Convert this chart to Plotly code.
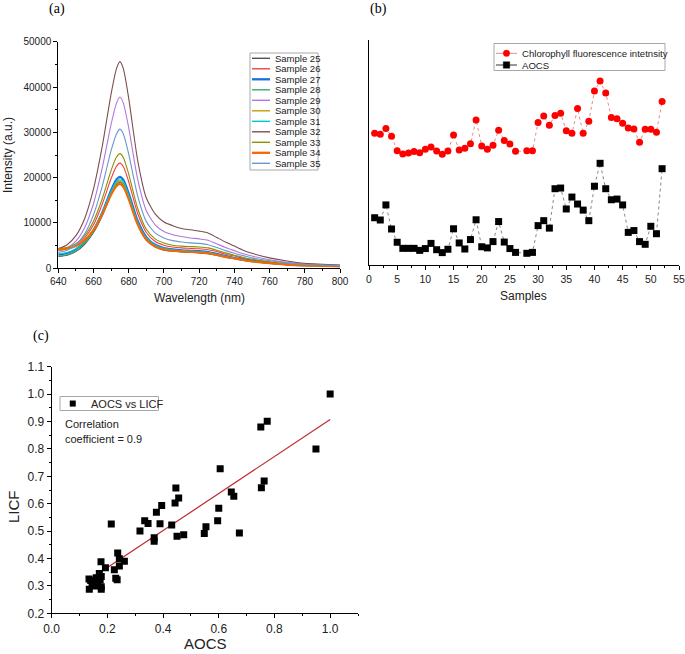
import plotly.graph_objects as go

W, H = 685, 654
def X(px): return px / W
def Y(py): return 1 - py / H

# ---------------- Panel (a) data ----------------
wavelength = [640, 645, 650, 655, 660, 665, 670, 673, 675, 677, 680, 685, 690, 695, 700,
              705, 710, 715, 720, 725, 730, 735, 740, 745, 750, 760, 770, 780, 790, 800]
sample_names = ["Sample 25", "Sample 26", "Sample 27", "Sample 28", "Sample 29", "Sample 30",
                "Sample 31", "Sample 32", "Sample 33", "Sample 34", "Sample 35"]
sample_colors = ["#515151", "#F14040", "#1A6FDF", "#37AD6B", "#B177DE", "#CC9900",
                 "#00CBCC", "#7D4E4E", "#8E8E00", "#FB6501", "#6699CC"]
sample_widths = [1.1, 1.1, 2.0, 1.1, 1.1, 1.1, 1.1, 1.1, 1.1, 2.0, 1.1]

s25 = [2600, 2900, 3700, 5300, 7900, 11600, 16300, 18400, 19000, 18300, 15400, 9700, 6200, 4700, 4000,
       3750, 3600, 3500, 3400, 3200, 2850, 2450, 2100, 1750, 1480, 1080, 780, 600, 500, 420]
s26 = [4000, 4300, 5000, 6700, 9600, 14200, 19800, 22500, 23200, 22400, 19100, 12200, 7900, 5900, 5100,
       4700, 4500, 4400, 4300, 4100, 3700, 3100, 2700, 2200, 1850, 1350, 950, 750, 600, 500]
s27 = [3000, 3300, 4200, 5900, 8500, 12400, 17300, 19600, 20200, 19500, 16600, 10600, 6900, 5200, 4500,
       4200, 4000, 3900, 3800, 3600, 3200, 2700, 2300, 1950, 1650, 1200, 850, 650, 550, 450]
s28 = [2700, 3000, 3800, 5500, 8100, 11900, 16700, 18900, 19500, 18800, 15900, 10000, 6400, 4900, 4200,
       3900, 3700, 3600, 3500, 3300, 2950, 2500, 2150, 1800, 1500, 1100, 800, 620, 520, 430]
s29 = [3800, 4500, 6000, 9000, 14300, 22200, 31800, 36400, 37800, 36400, 31000, 19800, 12700, 9600, 8100,
       7400, 7000, 6700, 6500, 6200, 5400, 4600, 3900, 3200, 2700, 1900, 1300, 950, 800, 650]
s30 = [4400, 4500, 5000, 6300, 8600, 12200, 16700, 18700, 19200, 18500, 15700, 10000, 6500, 5000, 4300,
       4000, 3850, 3750, 3650, 3450, 3050, 2600, 2200, 1850, 1550, 1120, 800, 620, 520, 440]
s31 = [3200, 3500, 4300, 6000, 8500, 12300, 17000, 19200, 19800, 19100, 16200, 10300, 6700, 5100, 4400,
       4100, 3900, 3800, 3700, 3500, 3100, 2650, 2250, 1900, 1600, 1150, 820, 640, 540, 450]
s32 = [4300, 5200, 7200, 11000, 17500, 27000, 38500, 44000, 45600, 44000, 37500, 24000, 15500, 12000, 10200,
       9400, 8800, 8500, 8200, 7800, 6800, 5800, 4900, 4000, 3300, 2300, 1600, 1100, 900, 700]
s33 = [4300, 4600, 5400, 7200, 10400, 15400, 21600, 24500, 25300, 24400, 20800, 13300, 8600, 6500, 5600,
       5100, 4900, 4800, 4700, 4500, 4000, 3400, 2900, 2400, 2000, 1450, 1050, 800, 650, 550]
s34 = [4100, 4300, 4900, 6200, 8400, 11900, 16200, 18100, 18600, 17900, 15200, 9700, 6300, 4800, 4150,
       3850, 3700, 3600, 3500, 3300, 2950, 2500, 2150, 1800, 1520, 1100, 790, 610, 510, 430]
s35 = [3500, 4000, 5200, 7600, 11800, 18200, 26000, 29600, 30700, 29600, 25200, 16100, 10300, 7800, 6700,
       6100, 5800, 5600, 5500, 5200, 4600, 3900, 3300, 2800, 2300, 1650, 1150, 850, 700, 600]
spectra = [s25, s26, s27, s28, s29, s30, s31, s32, s33, s34, s35]

# ---------------- Panel (b) data ----------------
samples = [1, 2, 3, 4, 5, 6, 7, 8, 9, 10, 11, 12, 13, 14, 15, 16, 17, 18, 19, 20, 21, 22, 23, 24, 25, 26,
           28, 29, 30, 31, 32, 33, 34, 35, 36, 37, 38, 39, 40, 41, 42, 43, 44, 45, 46, 47, 48, 49, 50, 51, 52]
chl_fluor = [58.5, 58.1, 60.7, 57.2, 50.8, 49.3, 49.8, 50.4, 49.9, 51.4, 52.4, 50.7, 49.2, 50.7, 57.8,
             51.1, 51.9, 53.9, 64.4, 52.9, 51.4, 53.2, 59.9, 55.3, 53.8, 50.5,
             50.8, 50.8, 63.3, 66.2, 62.1, 66.4, 67.4, 59.7, 58.5, 69.5, 58.5, 63.9, 77.3, 81.8,
             76.4, 65.6, 65.0, 63.0, 60.9, 60.4, 54.5, 60.3, 60.3, 59.0, 72.7]
aocs_b = [21.0, 20.0, 26.7, 16.0, 10.1, 7.4, 7.4, 7.4, 6.5, 7.3, 9.6, 6.8, 5.5, 7.0, 16.1,
          9.8, 7.1, 11.3, 20.1, 8.1, 7.6, 10.4, 19.3, 10.2, 7.3, 5.6,
          5.2, 5.6, 17.5, 19.7, 16.4, 33.9, 34.2, 24.9, 30.2, 27.1, 24.4, 19.7, 35.0, 45.2,
          33.9, 29.0, 29.3, 26.7, 14.5, 15.3, 10.4, 9.2, 17.2, 13.9, 42.8]

# ---------------- Panel (c) data ----------------
aocs_c = [1.000, 0.751, 0.774, 0.949, 0.605, 0.446, 0.456, 0.443, 0.645, 0.654, 0.763, 0.753, 0.600,
          0.596, 0.554, 0.548, 0.674, 0.474, 0.450, 0.431, 0.395, 0.376, 0.334, 0.346, 0.389, 0.214,
          0.317, 0.368, 0.368, 0.237, 0.243, 0.261, 0.177, 0.243, 0.193, 0.225, 0.230, 0.235, 0.171,
          0.134, 0.152, 0.135, 0.156, 0.178, 0.178, 0.174, 0.178, 0.145, 0.165, 0.160, 0.140]
licf_c = [1.000, 0.880, 0.901, 0.800, 0.728, 0.657, 0.621, 0.603, 0.643, 0.627, 0.683, 0.658, 0.583,
          0.538, 0.516, 0.491, 0.493, 0.487, 0.481, 0.522, 0.593, 0.569, 0.538, 0.528, 0.527, 0.526,
          0.500, 0.476, 0.463, 0.420, 0.399, 0.390, 0.388, 0.373, 0.366, 0.359, 0.328, 0.322, 0.345,
          0.325, 0.318, 0.288, 0.300, 0.297, 0.288, 0.322, 0.334, 0.305, 0.312, 0.330, 0.320]
fit_x = [0.13, 1.0]
fit_y = [0.320, 0.907]

FONT = "Liberation Sans"
fig = go.Figure()

for name, col, lw, ys in zip(sample_names, sample_colors, sample_widths, spectra):
    fig.add_trace(go.Scatter(x=wavelength, y=ys, mode="lines", name=name,
                             line=dict(color=col, width=lw, shape="spline", smoothing=0.6),
                             xaxis="x", yaxis="y", showlegend=False))

fig.add_trace(go.Scatter(x=samples, y=chl_fluor, mode="lines+markers",
                         line=dict(color="#e88a8a", width=1, dash="dot"),
                         marker=dict(symbol="circle", size=7, color="#ff0000"),
                         xaxis="x2", yaxis="y2", showlegend=False))
fig.add_trace(go.Scatter(x=samples, y=aocs_b, mode="lines+markers",
                         line=dict(color="#888888", width=1, dash="dot"),
                         marker=dict(symbol="square", size=7, color="#000000"),
                         xaxis="x2", yaxis="y2", showlegend=False))

fig.add_trace(go.Scatter(x=fit_x, y=fit_y, mode="lines", line=dict(color="#c0282d", width=1.2),
                         xaxis="x3", yaxis="y3", showlegend=False))
fig.add_trace(go.Scatter(x=aocs_c, y=licf_c, mode="markers",
                         marker=dict(symbol="square", size=7, color="#000000"),
                         xaxis="x3", yaxis="y3", showlegend=False))

axis_common = dict(showline=True, linecolor="black", linewidth=1, showgrid=False, zeroline=False,
                   ticks="outside", ticklen=4, tickcolor="black", mirror=False, automargin=False)

fig.update_layout(
    template="none",
    width=W, height=H, margin=dict(l=0, r=0, t=0, b=0, pad=0, autoexpand=False),
    paper_bgcolor="white", plot_bgcolor="white", showlegend=False,
    font=dict(family=FONT, color="#222222"),
    xaxis=dict(domain=[X(58.3), X(340)], range=[640, 800], dtick=20, anchor="y",
               tickfont=dict(size=10), minor=dict(ticks="outside", ticklen=2, dtick=10, tickcolor="black"),
               **axis_common),
    yaxis=dict(domain=[Y(268.3), Y(41.7)], range=[0, 50000], dtick=10000, tickformat="d", anchor="x",
               tickfont=dict(size=10), minor=dict(ticks="outside", ticklen=2, dtick=5000, tickcolor="black"),
               **axis_common),
    xaxis2=dict(domain=[X(369), X(679)], range=[0, 55], dtick=5, anchor="y2",
                tickfont=dict(size=10.5), minor=dict(ticks="outside", ticklen=2, dtick=2.5, tickcolor="black"),
                **axis_common),
    yaxis2=dict(domain=[Y(265), Y(40)], range=[0, 100], anchor="x2", automargin=False,
                showline=True, linecolor="black", linewidth=1, showgrid=False, zeroline=False,
                showticklabels=False, ticks=""),
    xaxis3=dict(domain=[X(51.7), X(358)], range=[0, 1.1], dtick=0.2, tickformat=".1f", anchor="y3",
                tickfont=dict(size=12), minor=dict(ticks="outside", ticklen=2, dtick=0.1, tickcolor="black"),
                **axis_common),
    yaxis3=dict(domain=[Y(613.3), Y(366.7)], range=[0.2, 1.1], dtick=0.1, tickformat=".1f", anchor="x3",
                tickfont=dict(size=12), minor=dict(ticks="outside", ticklen=2, dtick=0.05, tickcolor="black"),
                **axis_common),
)

ann = []
shapes = []
def text(px, py, s, size, xanchor="center", yanchor="middle", family=FONT, angle=0, color="#222222"):
    ann.append(dict(x=X(px), y=Y(py), xref="paper", yref="paper", text=s, showarrow=False,
                    xanchor=xanchor, yanchor=yanchor, textangle=angle,
                    font=dict(size=size, family=family, color=color)))

# panel labels
text(57, 9, "(a)", 14, family="Liberation Serif", color="black")
text(378, 9, "(b)", 14, family="Liberation Serif", color="black")
text(41, 336, "(c)", 14, family="Liberation Serif", color="black")
# axis titles
text(199, 298, "Wavelength (nm)", 12)
text(8, 155, "Intensity (a.u.)", 12, angle=-90)
text(523, 296, "Samples", 12)
text(205, 643, "AOCS", 15)
text(13, 507, "LICF", 15, angle=-90)

# legend (a)
shapes.append(dict(type="rect", xref="paper", yref="paper", x0=X(250), x1=X(318), y0=Y(53), y1=Y(170),
                   line=dict(color="#a8a8a8", width=1), fillcolor="white"))
for i, (name, col, lw) in enumerate(zip(sample_names, sample_colors, sample_widths)):
    yy = 58.3 + i * 10.5
    shapes.append(dict(type="line", xref="paper", yref="paper", x0=X(252), x1=X(270), y0=Y(yy), y1=Y(yy),
                       line=dict(color=col, width=lw + 0.3)))
    text(273, yy, name, 9.5, xanchor="left")

# legend (b)
shapes.append(dict(type="rect", xref="paper", yref="paper", x0=X(494), x1=X(665), y0=Y(43.5), y1=Y(70.5),
                   line=dict(color="#a8a8a8", width=1), fillcolor="white"))
for yy, lc, mc, kind, lab in [(53.3, "#e88a8a", "#ff0000", "circle", "Chlorophyll fluorescence intetnsity"),
                              (65, "#333333", "#000000", "rect", "AOCS")]:
    shapes.append(dict(type="line", xref="paper", yref="paper", x0=X(496), x1=X(517), y0=Y(yy), y1=Y(yy),
                       line=dict(color=lc, width=1)))
    shapes.append(dict(type=kind, xref="paper", yref="paper", x0=X(503.3), x1=X(509.7),
                       y0=Y(yy - 3.2), y1=Y(yy + 3.2), line=dict(color=mc, width=0.5), fillcolor=mc))
    text(520, yy, lab, 9.6, xanchor="left")

# legend (c)
shapes.append(dict(type="rect", xref="paper", yref="paper", x0=X(60), x1=X(158.5), y0=Y(396.5), y1=Y(410.5),
                   line=dict(color="#a8a8a8", width=1), fillcolor="white"))
shapes.append(dict(type="rect", xref="paper", yref="paper", x0=X(70), x1=X(75.5), y0=Y(400.8), y1=Y(406.3),
                   line=dict(color="black", width=0.5), fillcolor="black"))
text(89, 403.5, "AOCS vs LICF", 11, xanchor="left")
text(63, 423.5, "Correlation", 11, xanchor="left")
text(63, 438.5, "coefficient = 0.9", 11, xanchor="left")

fig.update_layout(annotations=ann, shapes=shapes)
fig.write_html("out.html", config={"displayModeBar": False},
               post_script="document.body.style.margin='0px';document.body.style.padding='0px';")
